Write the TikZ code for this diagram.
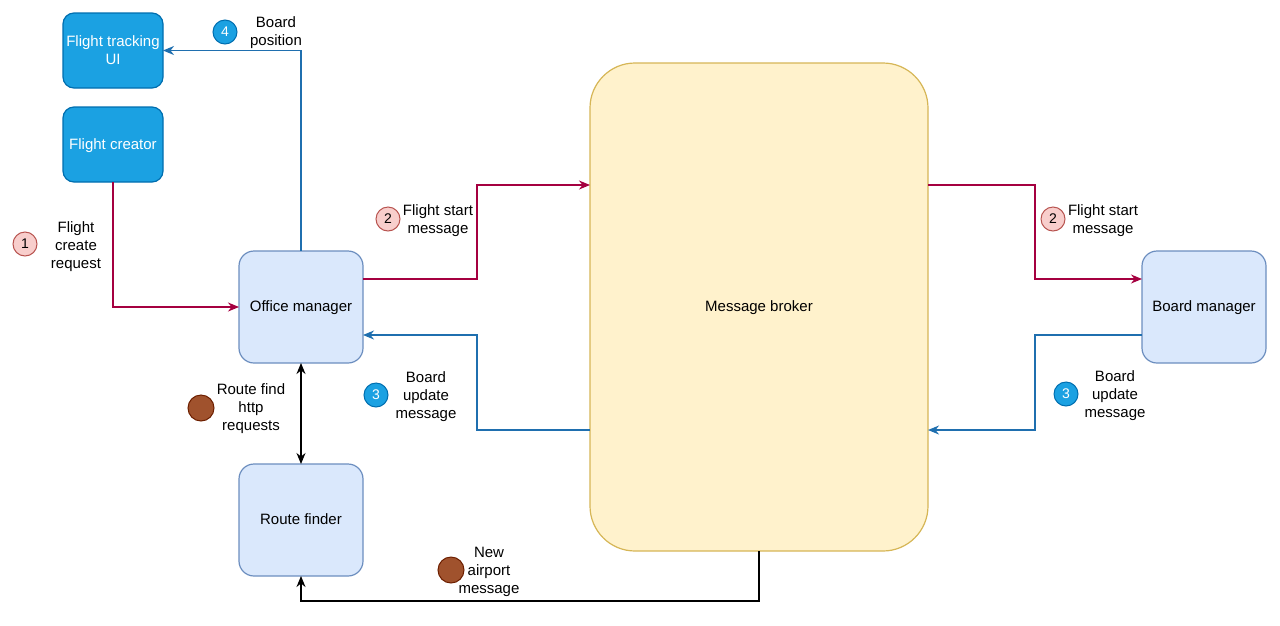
\documentclass[tikz,border=0pt]{standalone}
\usepackage{fontspec}
\setmainfont{Liberation Sans}
\usetikzlibrary{arrows.meta}
\definecolor{bluefill}{HTML}{1BA1E2}
\definecolor{bluestroke}{HTML}{006EAF}
\definecolor{lbfill}{HTML}{DAE8FC}
\definecolor{lbstroke}{HTML}{6C8EBF}
\definecolor{yfill}{HTML}{FFF2CC}
\definecolor{ystroke}{HTML}{D6B656}
\definecolor{rfill}{HTML}{F8CECC}
\definecolor{rstroke}{HTML}{B85450}
\definecolor{brfill}{HTML}{A0522D}
\definecolor{brstroke}{HTML}{6D1F00}
\definecolor{crimson}{HTML}{A50040}
\definecolor{linkblue}{HTML}{1F6FAF}
\begin{document}
\begin{tikzpicture}[x=1pt,y=-1pt,
  font=\fontsize{15}{18}\selectfont,
  every node/.style={inner sep=0pt,outer sep=0pt},
  darkbox/.style={draw=bluestroke,fill=bluefill,rounded corners=11pt,line width=1.2pt,text=white,align=center,text depth=1pt},
  lightbox/.style={draw=lbstroke,fill=lbfill,rounded corners=15pt,line width=1.2pt,align=center,text depth=1pt},
  brokerbox/.style={draw=ystroke,fill=yfill,rounded corners=45pt,line width=1.2pt,align=center,text depth=1pt},
  redbadge/.style={circle,draw=rstroke,fill=rfill,line width=1pt,minimum size=24pt,font=\fontsize{14}{14}\selectfont},
  bluebadge/.style={circle,draw=bluestroke,fill=bluefill,line width=1pt,minimum size=24pt,text=white,font=\fontsize{14}{14}\selectfont},
  brownbadge/.style={circle,draw=brstroke,fill=brfill,line width=1pt,minimum size=26pt},
  lbl/.style={align=center,yshift=-2pt},
  tip/.style={Stealth[length=11pt,width=9pt,inset=3.5pt]},
  conn/.style={line width=1.2pt,-{Stealth[length=11pt,width=9pt,inset=3.5pt]}},
  redconn/.style={conn,draw=crimson},
  blueconn/.style={conn,draw=linkblue},
  blackconn/.style={conn,draw=black},
]
\useasboundingbox (0,0) rectangle (1280,625);
% boxes
\node[darkbox,minimum width=100pt,minimum height=75pt] (ui) at (113,50.5) {Flight tracking\\UI};
\node[darkbox,minimum width=100pt,minimum height=75pt] (fc) at (113,144.5) {Flight creator};
\node[lightbox,minimum width=124pt,minimum height=112pt] (om) at (301,307) {Office manager};
\node[lightbox,minimum width=124pt,minimum height=112pt] (rf) at (301,520) {Route finder};
\node[brokerbox,minimum width=338pt,minimum height=488pt] (mb) at (759,307) {Message broker};
\node[lightbox,minimum width=124pt,minimum height=112pt] (bm) at (1204,307) {Board manager};
% helper coordinates
\coordinate (omR1) at (363,279);
\coordinate (omR2) at (363,335);
\coordinate (mbL1) at (590,185);
\coordinate (mbL2) at (590,430);
\coordinate (mbR1) at (928,185);
\coordinate (mbR2) at (928,430);
\coordinate (bmL1) at (1142,279);
\coordinate (bmL2) at (1142,335);
% connectors
\draw[redconn] (fc.south) |- (om.west);
\draw[blueconn] (om.north) |- (ui.east);
\draw[redconn] (omR1) -- (477,279) -- (477,185) -- (mbL1);
\draw[blueconn] (mbL2) -- (477,430) -- (477,335) -- (omR2);
\draw[redconn] (mbR1) -- (1035,185) -- (1035,279) -- (bmL1);
\draw[blueconn] (bmL2) -- (1035,335) -- (1035,430) -- (mbR2);
\draw[blackconn,{Stealth[length=11pt,width=9pt,inset=3.5pt]}-{Stealth[length=11pt,width=9pt,inset=3.5pt]}] (om.south) -- (rf.north);
\draw[blackconn] (mb.south) -- (759,601) -| (rf.south);
% badges and labels
\node[redbadge] (b1) at (25,244) {1};
\node[lbl] (t1) at (76,245) {Flight\\create\\request};
\node[bluebadge] (b4) at (225,32) {4};
\node[lbl] (t4) at (276,31) {Board\\position};
\node[redbadge] (b2a) at (388,219) {2};
\node[lbl] (t2a) at (438,219) {Flight start\\message};
\node[redbadge] (b2b) at (1053,219) {2};
\node[lbl] (t2b) at (1103,219) {Flight start\\message};
\node[bluebadge] (b3a) at (376,395) {3};
\node[lbl] (t3a) at (426,395) {Board\\update\\message};
\node[bluebadge] (b3b) at (1066,394) {3};
\node[lbl] (t3b) at (1115,394) {Board\\update\\message};
\node[brownbadge] (br1) at (201,408) {};
\node[lbl] (tr1) at (251,407) {Route find\\http\\requests};
\node[brownbadge] (br2) at (451,570) {};
\node[lbl] (tr2) at (489,570) {New\\airport\\message};
\end{tikzpicture}
\end{document}
